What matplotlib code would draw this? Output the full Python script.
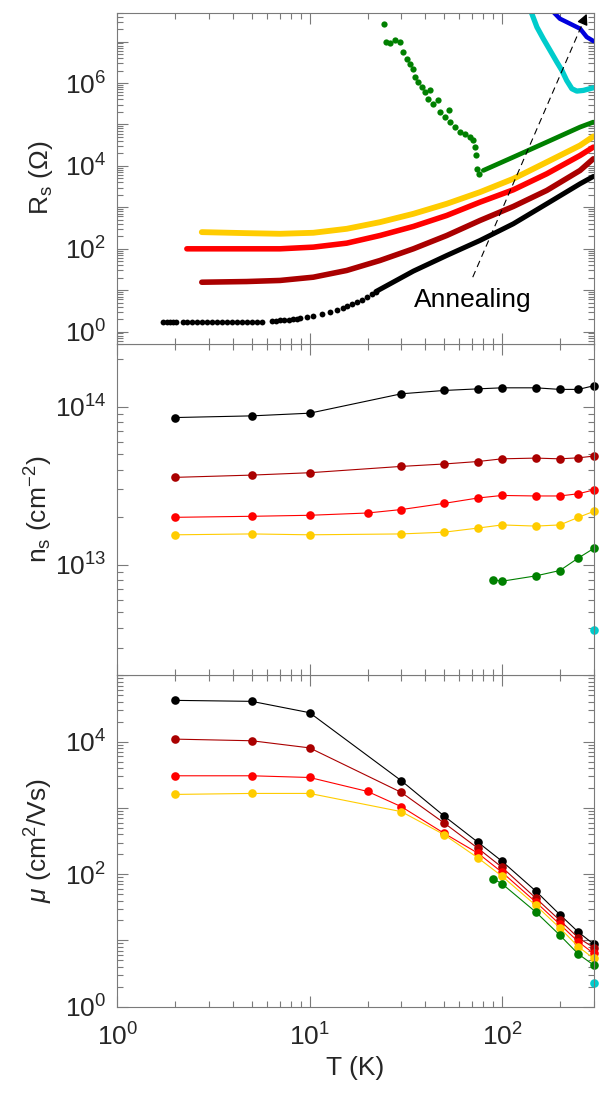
import numpy as np
import matplotlib
matplotlib.use("Agg")
import matplotlib.pyplot as plt
from matplotlib.ticker import FixedLocator, LogLocator, FuncFormatter, NullFormatter

plt.rcParams["font.family"] = ["Liberation Sans", "DejaVu Sans"]
plt.rcParams["mathtext.fontset"] = "custom"
plt.rcParams["mathtext.rm"] = "Liberation Sans"
plt.rcParams["mathtext.it"] = "Liberation Sans:italic"
plt.rcParams["mathtext.default"] = "regular"

# colours of the annealing steps
C_BLACK = "#000000"
C_DRED = "#aa0000"
C_RED = "#ff0000"
C_YEL = "#ffcc00"
C_GRN = "#008000"
C_CYAN = "#00cccc"
C_BLUE = "#0000dd"

# ---------------- top panel: sheet resistance ----------------
# black, low-T single points
rs_black_dots_T = [1.735, 1.806, 1.879, 1.956, 2.02, 2.205, 2.313, 2.436, 2.586, 2.746,
                   2.915, 3.096, 3.287, 3.489, 3.705, 3.933, 4.176, 4.434, 4.708, 4.996,
                   5.305, 5.678, 6.35, 6.689, 7.017, 7.39, 7.785, 8.166, 8.566, 8.915,
                   9.656, 10.46, 11.56, 12.77, 13.83, 14.86, 15.71, 16.68, 17.71, 18.73,
                   19.81, 21.03, 22.1]
rs_black_dots_R = [1.68, 1.68, 1.68, 1.68, 1.68, 1.68, 1.68, 1.68, 1.68, 1.68,
                   1.68, 1.68, 1.68, 1.68, 1.68, 1.68, 1.69, 1.70, 1.70, 1.71,
                   1.72, 1.74, 1.78, 1.80, 1.85, 1.90, 1.95, 2.0, 2.05, 2.1,
                   2.2, 2.35, 2.6, 2.9, 3.3, 3.7, 4.1, 4.6, 5.2, 5.9,
                   6.8, 8.0, 9.2]
rs_black_T = [22.1, 34.62, 51.63, 76.92, 114.6, 171.0, 254.8, 298.7]
rs_black_R = [9.2, 28.7, 68.5, 158, 399, 1213, 3690, 5545]

rs_T = [2.75, 4.71, 7.02, 10.45, 15.59, 23.23, 34.62, 51.63, 76.92, 114.6, 171.0, 254.8, 298.7]
rs_dred_R = [15.5, 16.1, 17.1, 20.5, 29.8, 51.9, 99.3, 208, 480, 1045, 2546, 7740, 14800]
rs_yel_R = [251, 237, 229, 242, 302, 437, 695, 1213, 2319, 4872, 12300, 31100, 51300]

rs_red_T = [2.30, 4.71, 7.02, 10.45, 15.59, 23.23, 34.62, 51.63, 76.92, 114.6, 171.0, 254.8, 298.7]
rs_red_R = [99.3, 99.3, 99.3, 109, 136, 208, 344, 634, 1330, 2642, 6430, 17800, 28300]

# green: noisy points below ~76 K, then a smooth branch
rs_grn_dots_T = [24.4, 24.9, 26.2, 27.8, 29.5, 30.7, 32.0, 33.3, 34.6, 35.3, 36.8, 38.3,
                 39.8, 42.3, 41.4, 44.0, 46.7, 47.6, 50.5, 53.2, 53.7, 57.0, 60.5, 64.2,
                 68.2, 71.0, 72.4, 73.3, 73.8, 76.2]
rs_grn_dots_logR = [7.432, 6.988, 6.964, 7.045, 6.988, 6.747, 6.586, 6.465, 6.344, 6.143,
                    6.022, 5.902, 5.781, 5.821, 5.620, 5.499, 5.580, 5.298, 5.177, 5.338,
                    5.056, 4.935, 4.815, 4.774, 4.694, 4.613, 4.452, 4.251, 3.929, 3.808]
rs_grn_T = [80.0, 114.6, 171.0, 254.8, 298.7]
rs_grn_logR = [3.889, 4.211, 4.573, 4.936, 5.056]

rs_cyan_T = [141, 152, 164, 178, 193, 205, 217, 231, 245, 265, 299]
rs_cyan_logR = [7.75, 7.350, 7.070, 6.787, 6.505, 6.304, 6.063, 5.862, 5.805, 5.821, 5.886]

rs_blue_T = [182, 200, 226, 255, 276, 299]
rs_blue_logR = [7.75, 7.553, 7.432, 7.311, 7.110, 7.013]

arrow_tail = (70.5, 20.5)
arrow_tip = (276, 4.7e7)
annealing_pos = (70.3, 5.8)

# ---------------- middle panel: carrier density ----------------
T_full = [2, 5, 10, 30, 50, 75, 100, 150, 200, 250, 300]
T_red = [2, 5, 10, 20, 30, 50, 75, 100, 150, 200, 250, 300]
T_grn = [90, 100, 150, 200, 250, 300]
T_cyan = [300]

ns_black = [8.56e13, 8.77e13, 9.12e13, 1.21e14, 1.27e14, 1.30e14, 1.32e14, 1.32e14, 1.29e14, 1.29e14, 1.36e14]
ns_dred = [3.58e13, 3.70e13, 3.83e13, 4.20e13, 4.35e13, 4.51e13, 4.69e13, 4.74e13, 4.69e13, 4.76e13, 4.88e13]
ns_red = [2.0e13, 2.03e13, 2.06e13, 2.13e13, 2.24e13, 2.45e13, 2.65e13, 2.75e13, 2.73e13, 2.73e13, 2.82e13, 2.98e13]
ns_yel = [1.55e13, 1.57e13, 1.55e13, 1.57e13, 1.61e13, 1.71e13, 1.79e13, 1.76e13, 1.79e13, 2.0e13, 2.18e13]
ns_grn = [8.07e12, 7.88e12, 8.52e12, 9.21e12, 1.107e13, 1.27e13]
ns_cyan = [3.9e12]

# ---------------- bottom panel: mobility ----------------
mu_black = [4.19e4, 4.05e4, 2.73e4, 2565, 755, 303, 157, 55.5, 24.5, 13.3, 8.77]
mu_dred = [1.09e4, 1.03e4, 8040, 1711, 593, 246, 127, 43.5, 20.1, 10.9, 7.8]
mu_red = [3050, 3050, 2875, 1771, 1042, 414, 207, 107, 37.9, 17.5, 9.5, 6.35]
mu_yel = [1596, 1652, 1652, 877, 395, 176, 93.3, 33.8, 15.4, 8.0, 5.34]
mu_grn = [85.2, 71.7, 26.8, 12.0, 6.2, 4.24]
mu_cyan = [2.3]

FS = 19
SPINE = "#7a7a7a"
TXT = "#262626"

fig = plt.figure(figsize=(6.0, 10.99), dpi=100)
left, width = 0.1955, 0.794
bottom, h = 0.084, 0.3015
ax3 = fig.add_axes([left, bottom, width, h])
ax2 = fig.add_axes([left, bottom + h, width, h])
ax1 = fig.add_axes([left, bottom + 2 * h, width, h])


def decade_fmt(every):
    def f(v, pos):
        e = int(round(np.log10(v)))
        if e % every:
            return ""
        return r"$\mathregular{10^{%d}}$" % e
    return FuncFormatter(f)


for ax in (ax1, ax2, ax3):
    ax.set_xscale("log")
    ax.set_yscale("log")
    ax.set_xlim(1, 300)
    ax.xaxis.set_major_locator(FixedLocator([1, 10, 100]))
    ax.xaxis.set_minor_locator(LogLocator(base=10, subs=np.arange(2, 10)))
    ax.xaxis.set_minor_formatter(NullFormatter())
    ax.yaxis.set_minor_locator(LogLocator(base=10, subs=np.arange(2, 10), numticks=20))
    ax.yaxis.set_minor_formatter(NullFormatter())
    ax.tick_params(which="both", direction="in", top=True, right=True,
                   colors=SPINE, labelcolor=TXT, labelsize=FS, width=0.8)
    ax.tick_params(which="major", length=8, pad=8)
    ax.tick_params(which="minor", length=4)
    for s in ax.spines.values():
        s.set_color(SPINE)
        s.set_linewidth(0.8)

for ax in (ax1, ax2):
    ax.tick_params(labelbottom=False)

# top panel
ax1.set_ylim(0.5, 5e7)
ax1.yaxis.set_major_locator(FixedLocator([10.0 ** k for k in range(0, 8)]))
ax1.yaxis.set_major_formatter(decade_fmt(2))
ax1.plot(rs_black_dots_T, rs_black_dots_R, "o", color=C_BLACK, ms=4.2, mew=0)
ax1.plot(rs_black_T, rs_black_R, "-", color=C_BLACK, lw=3.6, solid_capstyle="round")
ax1.plot(rs_T, rs_dred_R, "-", color=C_DRED, lw=4, solid_capstyle="round")
ax1.plot(rs_red_T, rs_red_R, "-", color=C_RED, lw=4, solid_capstyle="round")
ax1.plot(rs_T, rs_yel_R, "-", color=C_YEL, lw=4.2, solid_capstyle="round")
ax1.plot(rs_grn_dots_T, 10 ** np.array(rs_grn_dots_logR), "o", color=C_GRN, ms=4.5, mew=0)
ax1.plot(rs_grn_T, 10 ** np.array(rs_grn_logR), "-", color=C_GRN, lw=3.4, solid_capstyle="round")
ax1.plot(rs_cyan_T, 10 ** np.array(rs_cyan_logR), "-", color=C_CYAN, lw=3.8, solid_capstyle="round")
ax1.plot(rs_blue_T, 10 ** np.array(rs_blue_logR), "-", color=C_BLUE, lw=3.2, solid_capstyle="round")
ax1.plot([arrow_tail[0], arrow_tip[0]], [arrow_tail[1], arrow_tip[1]], "--", color="k", lw=0.8,
         dashes=(6, 4))
ax1.annotate("", xy=arrow_tip, xytext=(arrow_tip[0] * 0.97, arrow_tip[1] * 0.72),
             arrowprops=dict(arrowstyle="-|>", color="k", lw=1.0, mutation_scale=16,
                             shrinkA=0, shrinkB=0))
ax1.text(annealing_pos[0], annealing_pos[1], "Annealing", fontsize=FS, color="k",
         ha="center", va="center")
ax1.set_ylabel(r"R$_\mathregular{s}$ ($\Omega$)", fontsize=FS, color=TXT)

# middle panel
ax2.set_ylim(2e12, 2.5e14)
ax2.yaxis.set_major_locator(FixedLocator([1e13, 1e14]))
ax2.yaxis.set_major_formatter(decade_fmt(1))
for T, v, c in [(T_full, ns_black, C_BLACK), (T_full, ns_dred, C_DRED), (T_red, ns_red, C_RED),
                (T_full, ns_yel, C_YEL), (T_grn, ns_grn, C_GRN), (T_cyan, ns_cyan, C_CYAN)]:
    ax2.plot(T, v, "-o", color=c, lw=0.8, ms=6.2, mew=0, clip_on=False)
ax2.set_ylabel(r"n$_\mathregular{s}$ (cm$^{-2}$)", fontsize=FS, color=TXT)

# bottom panel
ax3.set_ylim(1, 1e5)
ax3.yaxis.set_major_locator(FixedLocator([10.0 ** k for k in range(0, 6)]))
ax3.yaxis.set_major_formatter(decade_fmt(2))
ax3.xaxis.set_major_formatter(decade_fmt(1))
for T, v, c in [(T_full, mu_black, C_BLACK), (T_full, mu_dred, C_DRED), (T_red, mu_red, C_RED),
                (T_full, mu_yel, C_YEL), (T_grn, mu_grn, C_GRN), (T_cyan, mu_cyan, C_CYAN)]:
    ax3.plot(T, v, "-o", color=c, lw=0.8, ms=6.2, mew=0, clip_on=False)
ax3.set_ylabel(r"$\mathit{\mu}$ (cm$^2$/Vs)", fontsize=FS, color=TXT)
ax3.set_xlabel("T (K)", fontsize=FS, color=TXT)
ax3.tick_params(axis="x", which="major", pad=12)

for ax in (ax1, ax2, ax3):
    ax.yaxis.set_label_coords(-0.13, 0.5)

fig.savefig("out.png", dpi=100)
